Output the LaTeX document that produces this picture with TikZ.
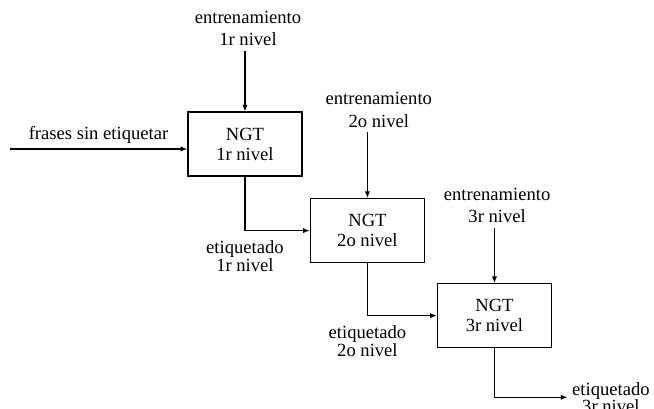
\documentclass[tikz,border=0pt]{standalone}
\usepackage{fontspec}
\setmainfont{Liberation Serif}
\usepackage{tikz}
\usetikzlibrary{arrows.meta, positioning}

\begin{document}
\begin{tikzpicture}[
                on grid,
                ngt/.style={draw, line width=1pt, minimum width=3.02cm, minimum height=1.69cm,
                            align=center, font=\fontsize{14}{15}\selectfont, inner sep=1pt},
                training/.style={align=center, font=\fontsize{14}{17}\selectfont},
                tagged/.style={align=center, font=\fontsize{14}{13}\selectfont},
                flow/.style={-{Latex[length=5pt, width=4pt]}, line width=0.9pt}]

                % page size of the original figure
                \useasboundingbox (0,0) rectangle (17.30,-10.795);

                % NGT stages, one below right of the other
                \node[ngt] (ngt1) at (6.48,-3.81) {NGT\\1r nivel};
                \node[ngt, below right=2.29cm and 3.24cm of ngt1] (ngt2) {NGT\\2o nivel};
                \node[ngt, below right=2.25cm and 3.36cm of ngt2] (ngt3) {NGT\\3r nivel};

                % training data above each stage
                \node[training, above right=3.06cm and 0.08cm of ngt1] (train1) {entrenamiento\\1r nivel};
                \node[training, above right=3.19cm and 0.30cm of ngt2] (train2) {entrenamiento\\2o nivel};
                \node[training, above right=2.92cm and 0.07cm of ngt3] (train3) {entrenamiento\\3r nivel};

                \draw[flow] (ngt1.north |- train1.south) -- (ngt1.north);
                \draw[flow] (ngt2.north |- train2.south) -- (ngt2.north);
                \draw[flow] (ngt3.north |- train3.south) -- (ngt3.north);

                % untagged input
                \coordinate[below left=0.13cm and 6.22cm of ngt1] (src);
                \draw[flow] (src) -- node[training, above] (frases) {frases sin etiquetar} (src -| ngt1.west);

                % tagged output goes on to the next stage
                \draw[flow] (ngt1.south) |- node[tagged, below, yshift=-4pt, pos=0.5] (tag1) {etiquetado\\1r nivel} (ngt2.west);
                \draw[flow] (ngt2.south) |- node[tagged, below, yshift=-4pt, pos=0.5] (tag2) {etiquetado\\2o nivel} (ngt3.west);

                % final output
                \node[tagged, below right=2.16cm and 3.08cm of ngt3] (tag3) {etiquetado\\3r nivel};
                \draw[flow] (ngt3.south) |- (tag3.west);
\end{tikzpicture}
\end{document}
